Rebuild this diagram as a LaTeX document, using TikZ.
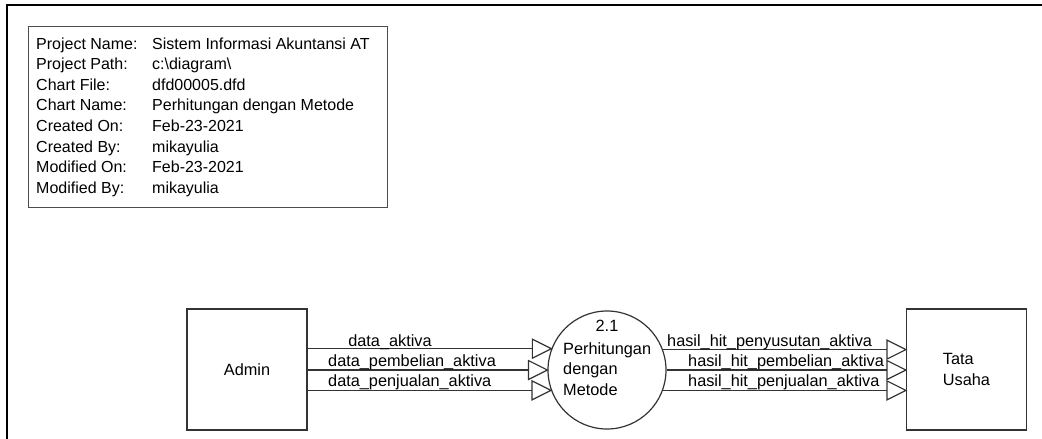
\documentclass[tikz,border=0pt]{standalone}
\usepackage{fontspec}
\setmainfont{Liberation Sans}
\begin{document}
\begin{tikzpicture}[x=1pt,y=-1pt,
  ln/.style={draw=black!80, line width=1.2pt},
  box/.style={ln, rectangle, minimum width=120pt, minimum height=121pt, inner sep=0pt},
  txt/.style={font=\fontsize{16.3}{20.6}\selectfont, inner sep=0pt},
  info/.style={font=\fontsize{16}{20.6}\selectfont, inner sep=0pt},
  flow/.style={ln, shorten >=19pt},
  head/.style={ln, line join=miter}]
\useasboundingbox (0,0) rectangle (1042,439);
% frame (top and left edges of the window)
\draw[line width=2.2pt, black] (1043,5) -- (7,5) -- (7,440);
% info box
\node[draw=black!70, line width=1pt, minimum width=359pt, minimum height=181pt, anchor=north west, inner sep=0pt] (infobox) at (28,26) {};
\node[info, anchor=base west] (infotext) at (36,49) {\begin{tabular}[t]{@{}p{116pt}@{}l@{}}
Project Name: & Sistem Informasi Akuntansi AT\\
Project Path: & c:\textbackslash diagram\textbackslash\\
Chart File: & dfd00005.dfd\\
Chart Name: & Perhitungan dengan Metode\\
Created On: & Feb-23-2021\\
Created By: & mikayulia\\
Modified On: & Feb-23-2021\\
Modified By: & mikayulia
\end{tabular}};
% entities and process
\node[box, txt, draw=black!80] (admin) at (247,369.5) {Admin};
\node[box, txt, draw=black!80, align=left] (tata) at (966.5,369.5) {Tata\\Usaha};
\node[ln, circle, minimum size=118pt, inner sep=0pt] (proc) at (607,370) {};
\node[txt, anchor=base] (pnum) at (607,331) {2.1};
\node[txt, anchor=base west] (pl1) at (563,354) {Perhitungan};
\node[txt, anchor=base west] (pl2) at (563,374.6) {dengan};
\node[txt, anchor=base west] (pl3) at (563,395.2) {Metode};
% flows in
\draw[flow] (admin.east |- proc.159.15) -- (proc.159.15);
\draw[flow] (admin.east |- proc.west) -- (proc.west);
\draw[flow] (admin.east |- proc.200.85) -- (proc.200.85);
\draw[head] (proc.159.15) -- ++(-19,-9.5) -- ++(0,19) -- cycle;
\draw[head] (proc.west) -- ++(-19,-9.5) -- ++(0,19) -- cycle;
\draw[head] (proc.200.85) -- ++(-19,-9.5) -- ++(0,19) -- cycle;
% flows out
\draw[flow] (proc.20.85) -- (tata.west |- proc.20.85);
\draw[flow] (proc.east) -- (tata.west |- proc.east);
\draw[flow] (proc.-20.85) -- (tata.west |- proc.-20.85);
\draw[head] (tata.west |- proc.20.85) -- ++(-19,-9.5) -- ++(0,19) -- cycle;
\draw[head] (tata.west |- proc.east) -- ++(-19,-9.5) -- ++(0,19) -- cycle;
\draw[head] (tata.west |- proc.-20.85) -- ++(-19,-9.5) -- ++(0,19) -- cycle;
% labels
\node[txt, anchor=base] (f1) at (390,346) {data\_aktiva};
\node[txt, anchor=base west] (f2) at (328,366) {data\_pembelian\_aktiva};
\node[txt, anchor=base west] (f3) at (328,386) {data\_penjualan\_aktiva};
\node[txt, anchor=base west] (g1) at (667,346) {hasil\_hit\_penyusutan\_aktiva};
\node[txt, anchor=base west] (g2) at (688,366) {hasil\_hit\_pembelian\_aktiva};
\node[txt, anchor=base west] (g3) at (688,386) {hasil\_hit\_penjualan\_aktiva};
\end{tikzpicture}
\end{document}
